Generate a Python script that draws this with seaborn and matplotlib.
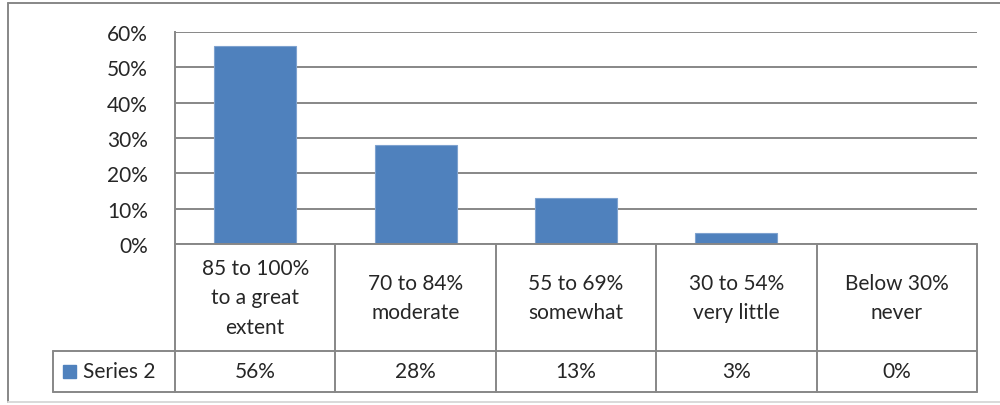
import matplotlib.pyplot as plt
import pandas as pd
import seaborn as sns
from matplotlib.lines import Line2D


# ==========================================================
# Data
# ==========================================================

categories = [
    "85 to 100%\nto a great\nextent",
    "70 to 84%\nmoderate",
    "55 to 69%\nsomewhat",
    "30 to 54%\nvery little",
    "Below 30%\nnever",
]

series_name = "Series 2"

values = [0.56, 0.28, 0.13, 0.03, 0.00]

y_ticks = [0.0, 0.1, 0.2, 0.3, 0.4, 0.5, 0.6]


# ==========================================================
# Figure
# ==========================================================

sns.set_style("white")
plt.rcParams["font.family"] = ["Lato", "DejaVu Sans"]

W, H = 1000, 406
BAR_COLOR = "#4F81BD"
GRID_COLOR = "#878787"
FONT_SIZE = 15


def fx(px):
    return px / W


def fy(py):
    return 1 - py / H


fig = plt.figure(figsize=(W / 100, H / 100), dpi=100)

plot_left, plot_right = 175, 977
plot_top, plot_bottom = 33, 245

ax = fig.add_axes([
    fx(plot_left),
    fy(plot_bottom),
    fx(plot_right) - fx(plot_left),
    fy(plot_top) - fy(plot_bottom),
])

df = pd.DataFrame({"category": categories, "value": values})

sns.barplot(
    data=df,
    x="category",
    y="value",
    color=BAR_COLOR,
    saturation=1,
    width=0.51,
    edgecolor="#7EA2CF",
    linewidth=0.8,
    ax=ax,
    zorder=3,
)

ax.set_xlim(-0.5, len(categories) - 0.5)
ax.set_ylim(0, 0.6)
ax.set_yticks(y_ticks)
ax.set_yticklabels([f"{t:.0%}" for t in y_ticks], fontsize=FONT_SIZE)
ax.tick_params(axis="y", length=0, pad=19.5)
ax.set_xticks([])
ax.set_xlabel("")
ax.set_ylabel("")

ax.grid(axis="y", color=GRID_COLOR, linewidth=1.4, zorder=0)
for side in ["top", "right", "bottom"]:
    ax.spines[side].set_visible(False)
ax.spines["left"].set_color(GRID_COLOR)
ax.spines["left"].set_linewidth(1.4)


# ==========================================================
# Data table
# ==========================================================

table_mid = 352
table_bottom = 393
label_left = 53
col_width = (plot_right - plot_left) / len(categories)


def hline(x0, x1, y, color=GRID_COLOR):
    fig.add_artist(Line2D([fx(x0), fx(x1)], [fy(y), fy(y)],
                          color=color, linewidth=1.4))


def vline(x, y0, y1, color=GRID_COLOR):
    fig.add_artist(Line2D([fx(x), fx(x)], [fy(y0), fy(y1)],
                          color=color, linewidth=1.4))


hline(plot_left, plot_right, plot_bottom)
hline(label_left, plot_right, table_mid)
hline(label_left, plot_right, table_bottom)
vline(label_left, table_mid, table_bottom)

for i in range(len(categories) + 1):
    vline(plot_left + i * col_width, plot_bottom, table_bottom)

for i, (cat, val) in enumerate(zip(categories, values)):
    cx = plot_left + (i + 0.5) * col_width
    fig.text(fx(cx), fy((plot_bottom + table_mid) / 2), cat,
             ha="center", va="center", fontsize=FONT_SIZE,
             linespacing=1.6)
    fig.text(fx(cx), fy((table_mid + table_bottom) / 2), f"{val:.0%}",
             ha="center", va="center", fontsize=FONT_SIZE)

# legend key in the series cell
fig.patches.append(plt.Rectangle(
    (fx(63), fy(379)), fx(13), fy(366) - fy(379),
    transform=fig.transFigure, color=BAR_COLOR))
fig.text(fx(83), fy((table_mid + table_bottom) / 2), series_name,
         ha="left", va="center", fontsize=FONT_SIZE)


# ==========================================================
# Outer border
# ==========================================================

hline(8, 1000, 4)
vline(8, 4, 403)
hline(8, 1000, 403, color="#D9D9D9")

fig.savefig("out.png", dpi=100)
